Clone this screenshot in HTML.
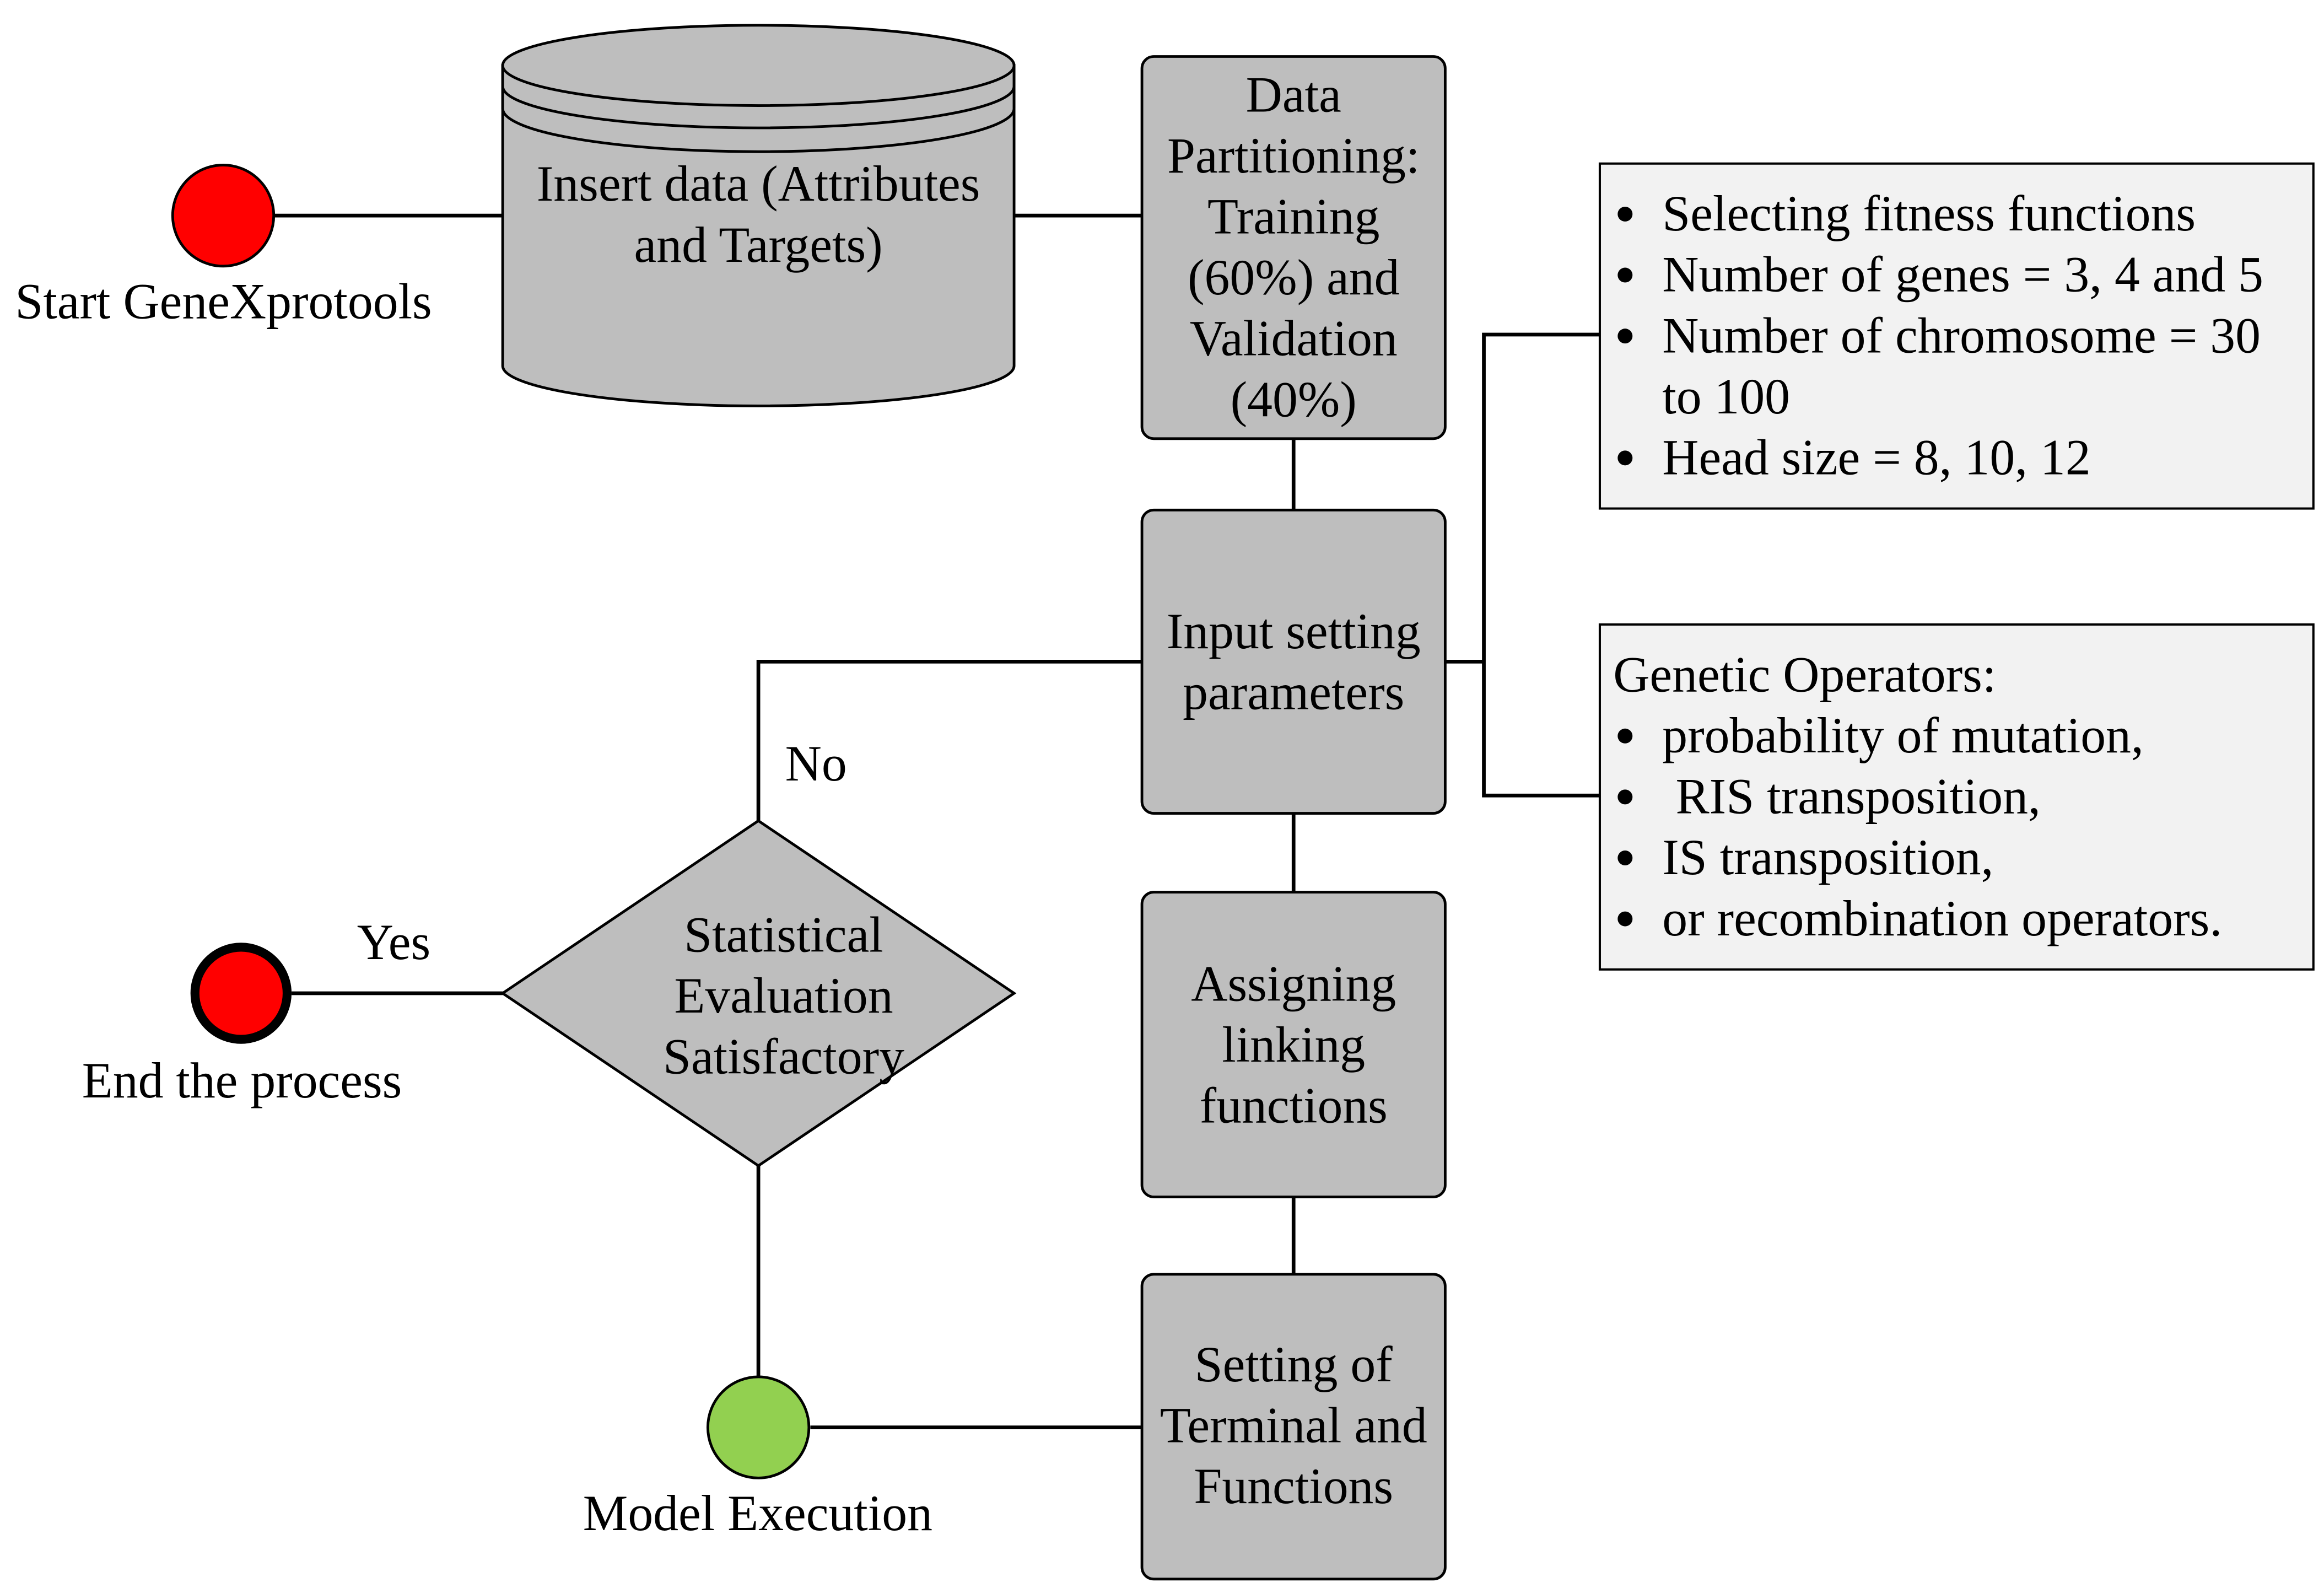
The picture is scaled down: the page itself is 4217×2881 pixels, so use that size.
<!DOCTYPE html>
<html><head><meta charset="utf-8"><style>
html,body{margin:0;padding:0;background:#fff;}
svg{display:block;}
text{font-family:"Liberation Serif",serif;font-size:34px;fill:#000;}
</style></head><body>
<svg width="4217" height="2881" viewBox="0 0 1563 1068" xmlns="http://www.w3.org/2000/svg">
<g stroke="#000" stroke-width="2.5" fill="none">
<line x1="184" y1="145" x2="338" y2="145"/>
<line x1="682" y1="145" x2="768" y2="145"/>
<line x1="870" y1="295" x2="870" y2="343"/>
<line x1="972" y1="445" x2="998" y2="445"/>
<polyline points="1076,225 998,225 998,535 1076,535"/>
<polyline points="768,445 510,445 510,552"/>
<line x1="338" y1="668" x2="196" y2="668"/>
<line x1="510" y1="784" x2="510" y2="926"/>
<line x1="545" y1="960" x2="768" y2="960"/>
<line x1="870" y1="547" x2="870" y2="600"/>
<line x1="870" y1="805" x2="870" y2="857"/>
</g>
<g stroke="#000" stroke-width="1.8">
<circle cx="150" cy="145" r="34" fill="#ff0000"/>
<circle cx="162" cy="668" r="31" fill="#ff0000" stroke-width="6"/>
<circle cx="510" cy="960" r="34" fill="#92d050"/>
<path d="M338,44 L338,246 A172,27 0 0 0 682,246 L682,44 Z" fill="#bebebe"/>
<ellipse cx="510" cy="44" rx="172" ry="27" fill="#bebebe"/>
<path d="M338,44 L338,58 A172,28 0 0 0 682,58 L682,44 M338,58 L338,73 A172,29 0 0 0 682,73 L682,58" fill="none"/>
<rect x="768" y="38" width="204" height="257" rx="8" fill="#bebebe"/>
<rect x="768" y="343" width="204" height="204" rx="8" fill="#bebebe"/>
<rect x="768" y="600" width="204" height="205" rx="8" fill="#bebebe"/>
<rect x="768" y="857" width="204" height="205" rx="8" fill="#bebebe"/>
<polygon points="510,552 682,668 510,784 338,668" fill="#bebebe"/>
<rect x="1076" y="110" width="480" height="232" fill="#f2f2f2" stroke-width="1.5"/>
<rect x="1076" y="420" width="480" height="232" fill="#f2f2f2" stroke-width="1.5"/>
</g>
<text x="10" y="214">Start GeneXprotools</text>
<text x="510" y="135" text-anchor="middle">Insert data (Attributes</text>
<text x="510" y="176" text-anchor="middle">and Targets)</text>
<g text-anchor="middle">
<text x="870" y="75">Data</text>
<text x="870" y="116">Partitioning:</text>
<text x="870" y="157">Training</text>
<text x="870" y="198">(60%) and</text>
<text x="870" y="239">Validation</text>
<text x="870" y="280">(40%)</text>
<text x="870" y="436">Input setting</text>
<text x="870" y="477">parameters</text>
<text x="870" y="673">Assigning</text>
<text x="870" y="714">linking</text>
<text x="870" y="755">functions</text>
<text x="870" y="929">Setting of</text>
<text x="870" y="970">Terminal and</text>
<text x="870" y="1011">Functions</text>
<text x="527" y="640">Statistical</text>
<text x="527" y="681">Evaluation</text>
<text x="527" y="722">Satisfactory</text>
</g>
<text x="528" y="525">No</text>
<text x="240" y="645">Yes</text>
<text x="55" y="738">End the process</text>
<text x="392" y="1029">Model Execution</text>
<g fill="#000">
<circle cx="1093" cy="144" r="5"/><circle cx="1093" cy="185" r="5"/><circle cx="1093" cy="226" r="5"/><circle cx="1093" cy="308" r="5"/>
<circle cx="1093" cy="495" r="5"/><circle cx="1093" cy="536" r="5"/><circle cx="1093" cy="577" r="5"/><circle cx="1093" cy="618" r="5"/>
</g>
<g>
<text x="1118" y="155">Selecting fitness functions</text>
<text x="1118" y="196">Number of genes = 3, 4 and 5</text>
<text x="1118" y="237">Number of chromosome = 30</text>
<text x="1118" y="278">to 100</text>
<text x="1118" y="319">Head size = 8, 10, 12</text>
<text x="1085" y="465">Genetic Operators:</text>
<text x="1118" y="506">probability of mutation,</text>
<text x="1127" y="547">RIS transposition,</text>
<text x="1118" y="588">IS transposition,</text>
<text x="1118" y="629">or recombination operators.</text>
</g>
</svg>
</body></html>
